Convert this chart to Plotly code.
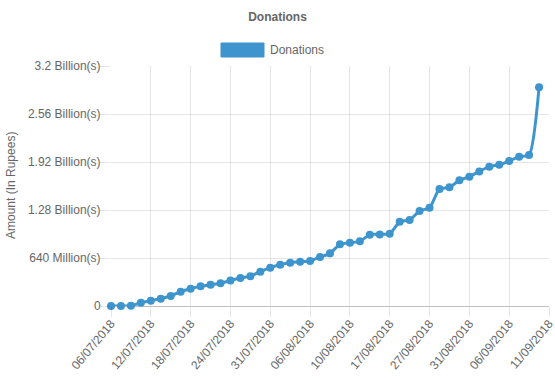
import plotly.graph_objects as go

# Data (values in Indian Rupees)
donation_millions = [0, 0, 5, 44, 71, 98, 133, 191, 231, 262, 284, 302, 340, 373, 398,
                     458, 511, 551, 578, 591, 600, 653, 702, 822, 844, 862, 951, 955,
                     964, 1122, 1147, 1267, 1311, 1560, 1582, 1676, 1724, 1795, 1858,
                     1884, 1933, 1991, 2013, 2916]
tick_labels = ["06/07/2018", "12/07/2018", "18/07/2018", "24/07/2018", "31/07/2018",
               "06/08/2018", "10/08/2018", "17/08/2018", "27/08/2018", "31/08/2018",
               "06/09/2018", "11/09/2018"]
y_tick_values = [0, 640e6, 1.28e9, 1.92e9, 2.56e9, 3.2e9]
y_tick_labels = ["0", "640 Million(s)", "1.28 Billion(s)", "1.92 Billion(s)",
                 "2.56 Billion(s)", "3.2 Billion(s)"]

values = [v * 1e6 for v in donation_millions]
x = list(range(len(values)))
n_categories = len(values) + 1  # last label has no data point
tick_pos = list(range(0, n_categories - 4, 4)) + [n_categories - 1]

COLOR = "#3e95cd"
FONT = "Liberation Sans, Arial, Helvetica, sans-serif"
GRID = "rgba(0,0,0,0.1)"

fig = go.Figure()
fig.add_trace(go.Scatter(
    x=x, y=values, mode="lines+markers", name="Donations",
    line=dict(color=COLOR, width=3, shape="spline", smoothing=0.6),
    marker=dict(color=COLOR, size=8),
    cliponaxis=False, showlegend=False,
))

W, H = 555, 380
L, R, T, B = 111, 6, 66, 74
pw, ph = W - L - R, H - T - B

def px_x(px):
    return (px - L) / pw

def px_y(py):
    return (H - B - py) / ph

fig.update_layout(
    width=W, height=H,
    margin=dict(l=L, r=R, t=T, b=B, autoexpand=False),
    paper_bgcolor="white", plot_bgcolor="white",
    font=dict(family=FONT, size=12, color="#666"),
    title=dict(text="<b>Donations</b>", x=0.5, xref="container", xanchor="center",
               y=1 - 17 / H, yref="container", yanchor="middle",
               font=dict(family=FONT, size=12, color="#666")),
    xaxis=dict(range=[0, n_categories - 1], tickmode="array", tickvals=tick_pos,
               ticktext=tick_labels, tickangle=-50, showgrid=True, gridcolor=GRID,
               gridwidth=1, ticks="outside", ticklen=10, tickcolor=GRID,
               zeroline=False, showline=False, automargin=False,
               ticklabeloverflow="allow", ticklabelstandoff=-5,
               tickfont=dict(size=12, color="#666")),
    yaxis=dict(range=[0, 3.2e9], tickmode="array", tickvals=y_tick_values,
               ticktext=y_tick_labels, showgrid=True, gridcolor=GRID, gridwidth=1,
               ticks="outside", ticklen=10, tickcolor=GRID, automargin=False,
               ticklabelstandoff=-3, ticklabeloverflow="allow",
               zeroline=True, zerolinecolor="rgba(0,0,0,0.25)", zerolinewidth=1,
               showline=False, tickfont=dict(size=12, color="#666")),
    shapes=[dict(type="rect", xref="paper", yref="paper",
                 x0=px_x(221), x1=px_x(264), y0=px_y(57), y1=px_y(43),
                 fillcolor=COLOR, line=dict(color=COLOR, width=1))],
    annotations=[
        dict(text="Donations", xref="paper", yref="paper", x=px_x(268), y=px_y(50),
             xanchor="left", yanchor="middle", showarrow=False,
             font=dict(family=FONT, size=12, color="#666")),
        dict(text="Amount (In Rupees)", xref="paper", yref="paper", x=px_x(11), y=0.5,
             xanchor="center", yanchor="middle", textangle=-90, showarrow=False,
             font=dict(family=FONT, size=12, color="#666")),
    ],
)

fig.write_html("out.html", config={"displayModeBar": False},
               post_script="document.body.style.margin='0';")
